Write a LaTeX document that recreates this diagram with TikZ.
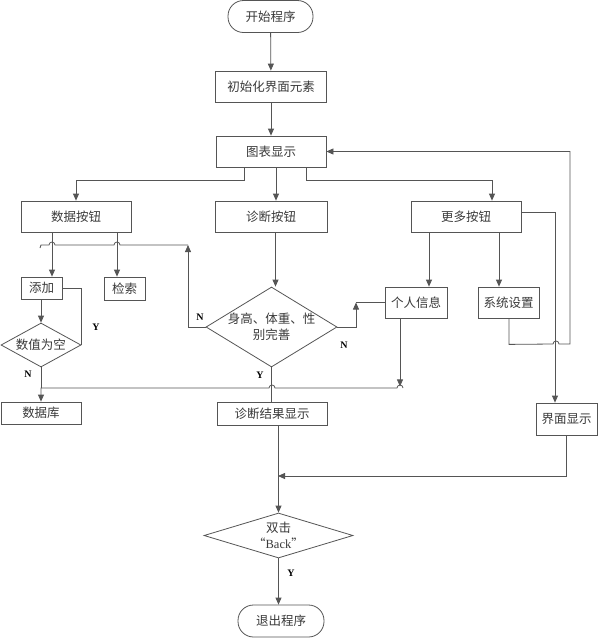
\documentclass[tikz,border=0pt]{standalone}
\usepackage{fontspec}
\setmainfont{Liberation Serif}
\newfontfamily\cjk{Noto Sans CJK SC}
\usetikzlibrary{shapes.geometric,arrows.meta}
\definecolor{ln}{HTML}{555555}
\definecolor{tx}{HTML}{3A3A3A}
\tikzset{
  base/.style={draw=ln, line width=0.8pt, text=tx, font=\cjk\fontsize{12.5}{16}\selectfont, inner sep=0pt, align=center},
  boxn/.style={base, rectangle},
  term/.style={base, rectangle, rounded corners=15.5pt},
  dia/.style={base, diamond},
  lbl/.style={font=\bfseries\fontsize{10}{12}\selectfont, text=black, inner sep=0pt},
  txt/.style={text=tx, font=\cjk\fontsize{12.5}{16}\selectfont, align=center, inner sep=0pt},
  arr/.style={draw=ln, line width=0.8pt, -{Triangle[length=7pt,width=6pt]}},
  ln/.style={draw=ln, line width=0.8pt}
}
\begin{document}
\begin{tikzpicture}[x=1pt,y=1pt]
\useasboundingbox[fill=white] (0,0) rectangle (598,-638);
% nodes
\node[term, minimum width=85pt, minimum height=32pt] (start) at (270.5,-16.5) {开始程序};
\node[boxn, minimum width=111pt, minimum height=31pt] (init) at (271,-86.5) {初始化界面元素};
\node[boxn, minimum width=110pt, minimum height=31pt] (chart) at (271,-151.5) {图表显示};
\node[boxn, minimum width=110pt, minimum height=31pt] (databtn) at (76,-216.5) {数据按钮};
\node[boxn, minimum width=112pt, minimum height=31pt] (diagbtn) at (271,-216.5) {诊断按钮};
\node[boxn, minimum width=110pt, minimum height=31pt] (morebtn) at (466,-216.5) {更多按钮};
\node[boxn, minimum width=41pt, minimum height=22pt] (add) at (41.5,-288) {添加};
\node[boxn, minimum width=41pt, minimum height=23pt] (search) at (124.5,-288.5) {检索};
\node[dia, minimum width=80pt, minimum height=44pt] (empty) at (41,-345) {};
\node[txt] at (empty) {数值为空};
\node[dia, minimum width=131pt, minimum height=80pt] (chk) at (271.5,-327) {};
\node[txt] at (chk) {身高、体重、性\\别完善};
\node[boxn, minimum width=62pt, minimum height=31pt] (personal) at (416,-302.5) {个人信息};
\node[boxn, minimum width=61pt, minimum height=31pt] (sysset) at (508.5,-302.5) {系统设置};
\node[boxn, minimum width=80pt, minimum height=22pt] (db) at (41,-413) {数据库};
\node[boxn, minimum width=110pt, minimum height=23pt] (result) at (272,-413.5) {诊断结果显示};
\node[boxn, minimum width=61pt, minimum height=32pt] (ui) at (566.5,-419) {界面显示};
\node[dia, minimum width=149pt, minimum height=45pt] (dbl) at (278.5,-535.5) {};
\node[txt] at (dbl) {双击\\“{\rmfamily Back}”};
\node[term, minimum width=86pt, minimum height=32pt] (exit) at (281,-621) {退出程序};
% labels
\node[lbl] (y1) at (96,-327) {Y};
\node[lbl] (n1) at (28,-374) {N};
\node[lbl] (n2) at (200,-317) {N};
\node[lbl] (n3) at (344,-345) {N};
\node[lbl] (y2) at (260,-375) {Y};
\node[lbl] (y3) at (291,-573) {Y};
% coordinates
\coordinate (nl) at (188,-245);
\coordinate (nr) at (356,-302.5);
\coordinate (j) at (278,-476);
% connectors
\draw[arr] (start) -- (init);
\draw[arr] (init) -- (chart);
\draw[arr] ([xshift=-27pt]chart.south) -- ++(0,-13) -| (databtn.north);
\draw[arr] ([xshift=5pt]chart.south) -- ([xshift=5pt]chart.south |- diagbtn.north);
\draw[arr] ([xshift=35pt]chart.south) -- ++(0,-13) -| ([xshift=26pt]morebtn.north);
\draw[arr] ([xshift=10.5pt]add.north |- databtn.south) -- ([xshift=10.5pt]add.north);
\draw[arr] ([xshift=-7.5pt]search.north |- databtn.south) -- ([xshift=-7.5pt]search.north);
\draw[arr] (empty.north |- add.south) -- (empty.north);
\draw[ln] (empty.east) -- (empty.east |- add.east) -- (add.east);
\draw[arr] ([xshift=4.5pt]diagbtn.south) -- ([xshift=4.5pt]diagbtn.south |- chk.north);
% check N left
\draw[arr] (chk.west) -| (nl);
\draw[ln] (nl) -- (120,-245) arc[start angle=0,end angle=180,radius=3] -- (55,-245) arc[start angle=0,end angle=180,radius=3] -- (41,-245) -- (40,-248);
% check N right
\draw[arr] (chk.east) -| (nr);
\draw[ln] (personal.west) -- (nr);
% more
\draw[arr] ([xshift=-37pt]morebtn.south) -- ([xshift=-37pt]morebtn.south |- personal.north);
\draw[arr] ([xshift=33pt]morebtn.south) -- ([xshift=33pt]morebtn.south |- sysset.north);
\draw[arr] ([yshift=4.5pt]morebtn.east) -| ([xshift=-11.5pt]ui.north);
% personal down
\draw[arr] ([xshift=-16pt]personal.south) -- ++(0,-68);
\draw[arr] (403,-388) arc[start angle=0,end angle=180,radius=3] -- (275,-388) arc[start angle=0,end angle=180,radius=3] -- (db.north |- 0,-388) -- (db.north);
\draw[ln] (empty.south) -- (empty.south |- 0,-388);
\draw[ln] (chk.south) -- (chk.south |- result.north);
% loop back
\draw[arr] ([xshift=0.5pt]sysset.south) -- ++(0,-26) -- (553,-344) arc[start angle=180,end angle=0,radius=3] -- (570,-344) |- (chart.east);
% ui to merge
\draw[arr] (ui.south) |- (j);
\draw[arr] (dbl.north |- result.south) -- (dbl.north);
\draw[arr] (dbl.south) -- (dbl.south |- exit.north);
\end{tikzpicture}
\end{document}
